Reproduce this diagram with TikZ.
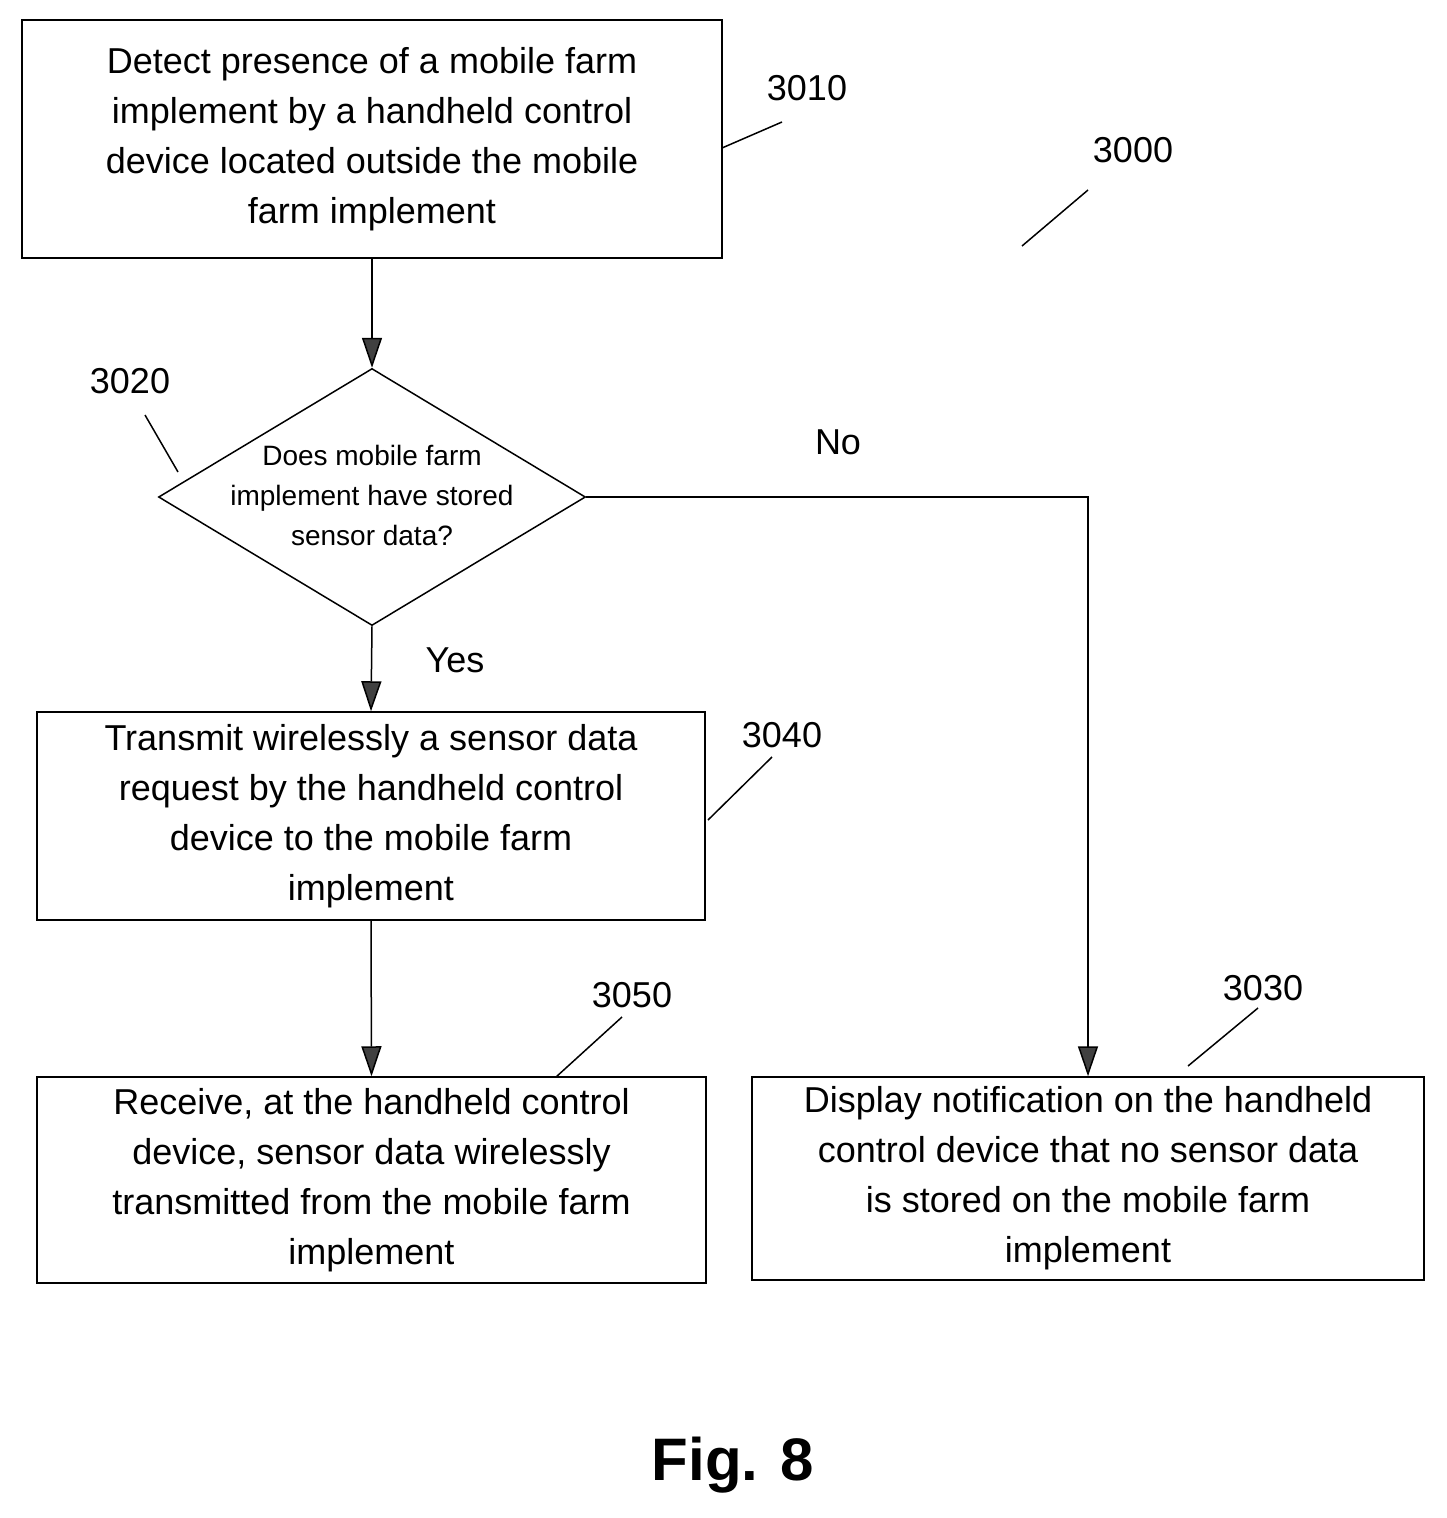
\documentclass[tikz,border=0pt]{standalone}
\usepackage{fontspec}
\setmainfont{Liberation Sans}
\usetikzlibrary{arrows.meta,shapes.geometric}
\begin{document}
\begin{tikzpicture}[x=1pt,y=-1pt,
 box/.style={draw,line width=1.5pt,inner sep=0pt,align=center,font=\fontsize{36}{50}\selectfont},
 lbl/.style={font=\fontsize{36}{40}\selectfont},
 lead/.style={line width=1.5pt},
 arr/.style={line width=1.5pt,-{Triangle[length=30pt,width=20pt,fill=black!75]}}]
\useasboundingbox (0,0) rectangle (1446,1518);
\node[box,minimum width=700pt,minimum height=238pt] (b3010) at (372,139) {Detect presence of a mobile farm\\implement by a handheld control\\device located outside the mobile\\farm implement};
\node[draw,line width=1.5pt,diamond,aspect=1.66,minimum width=427pt,minimum height=257pt,inner sep=0pt,align=center,font=\fontsize{28}{40}\selectfont] (d3020) at (372,497) {};
\node[align=center,font=\fontsize{28}{40}\selectfont] (t3020) at (372,495) {Does mobile farm\\implement have stored\\sensor data?};
\node[box,minimum width=668pt,minimum height=208pt] (b3040) at (371,816) {Transmit wirelessly a sensor data\\request by the handheld control\\device to the mobile farm\\implement};
\node[box,minimum width=669pt,minimum height=206pt] (b3050) at (371.5,1180) {Receive, at the handheld control\\device, sensor data wirelessly\\transmitted from the mobile farm\\implement};
\node[box,minimum width=672pt,minimum height=203pt] (b3030) at (1088,1178.5) {Display notification on the handheld\\control device that no sensor data\\is stored on the mobile farm\\implement};
\draw[arr] (b3010.south) -- (d3020.north);
\draw[arr] (d3020.south) -- (b3040.north);
\draw[arr] (b3040.south) -- (b3050.north);
\coordinate (c1) at (1088,497);
\draw[arr] (d3020.east) -- (c1) -- (b3030.north -| c1);
\node[lbl] (no) at (838,442) {No};
\node[lbl] (yes) at (455,660) {Yes};
\node[lbl] (l3010) at (807,88) {3010};
\node[lbl] (l3000) at (1133,150) {3000};
\node[lbl] (l3020) at (130,381) {3020};
\node[lbl] (l3040) at (782,735) {3040};
\node[lbl] (l3050) at (632,995) {3050};
\node[lbl] (l3030) at (1263,988) {3030};
\coordinate (a1) at (722,148); \coordinate (a2) at (782,122);
\draw[lead] (a1) -- (a2);
\coordinate (e1) at (1022,246); \coordinate (e2) at (1088,190);
\draw[lead] (e1) -- (e2);
\coordinate (f1) at (145,415); \coordinate (f2) at (178,472);
\draw[lead] (f1) -- (f2);
\coordinate (g1) at (708,820); \coordinate (g2) at (772,757);
\draw[lead] (g1) -- (g2);
\coordinate (h1) at (556,1077); \coordinate (h2) at (622,1017);
\draw[lead] (h1) -- (h2);
\coordinate (k1) at (1188,1066); \coordinate (k2) at (1258,1008);
\draw[lead] (k1) -- (k2);
\node[font=\fontsize{60}{60}\selectfont\bfseries] (fig) at (733,1465) {Fig. 8};
\end{tikzpicture}
\end{document}
